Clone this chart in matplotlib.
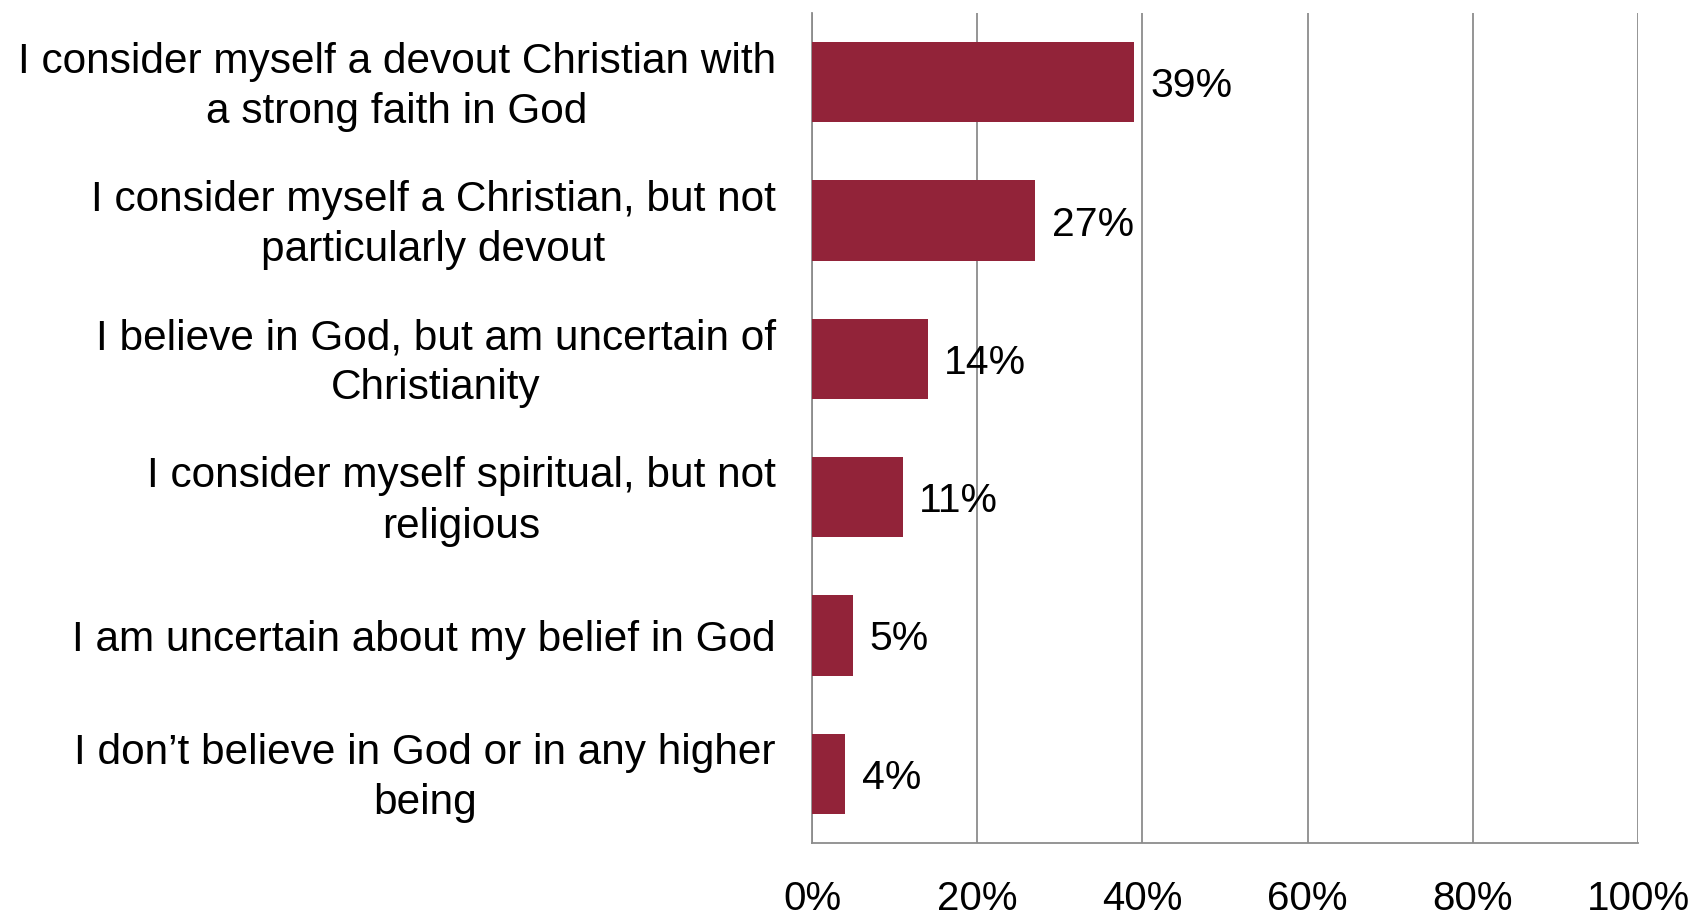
import matplotlib
matplotlib.use("Agg")
import matplotlib.pyplot as plt
from matplotlib.transforms import ScaledTranslation

plt.rcParams['font.family'] = ['Liberation Sans', 'DejaVu Sans']

categories = [
    "I consider myself a devout Christian with\na strong faith in God",
    "I consider myself a Christian, but not\nparticularly devout",
    "I believe in God, but am uncertain of\nChristianity",
    "I consider myself spiritual, but not\nreligious",
    "I am uncertain about my belief in God",
    "I don\u2019t believe in God or in any higher\nbeing",
]
values = [39, 27, 14, 11, 5, 4]
x_ticks = [0, 20, 40, 60, 80, 100]

bar_color = "#922339"
grid_color = "#8c8c8c"

fig = plt.figure(figsize=(16.98, 9.16), dpi=100)
ax = fig.add_axes([0.4782, 0.0797, 0.4865, 0.9061])

y = list(range(len(categories)))
ax.barh(y, values, height=0.58, color=bar_color, zorder=3)

for yi, v in zip(y, values):
    ax.text(v + 2.0, yi, f"{v}%", va="center_baseline", ha="left", fontsize=29.5,
            color="black", zorder=4)

ax.set_xlim(0, 100)
ax.set_ylim(len(categories) - 0.5, -0.5)
ax.set_xticks(x_ticks)
ax.set_xticklabels([f"{t}%" for t in x_ticks], fontsize=29)
ax.set_yticks(y)
ax.set_yticklabels(categories, fontsize=30.5, multialignment="center",
                   linespacing=1.33, va="center")

ax.tick_params(axis="both", length=0)
ax.tick_params(axis="x", pad=27)
ax.tick_params(axis="y", pad=26)

# nudge category labels down slightly
shift = ScaledTranslation(0, -3.2 / 72, fig.dpi_scale_trans)
for lab in ax.get_yticklabels():
    lab.set_transform(lab.get_transform() + shift)

ax.xaxis.grid(True, color=grid_color, linewidth=1.3, zorder=0)
ax.set_axisbelow(True)

for side in ["top", "right"]:
    ax.spines[side].set_visible(False)
for side in ["left", "bottom"]:
    ax.spines[side].set_color(grid_color)
    ax.spines[side].set_linewidth(1.3)

fig.savefig("out.png", dpi=100)
